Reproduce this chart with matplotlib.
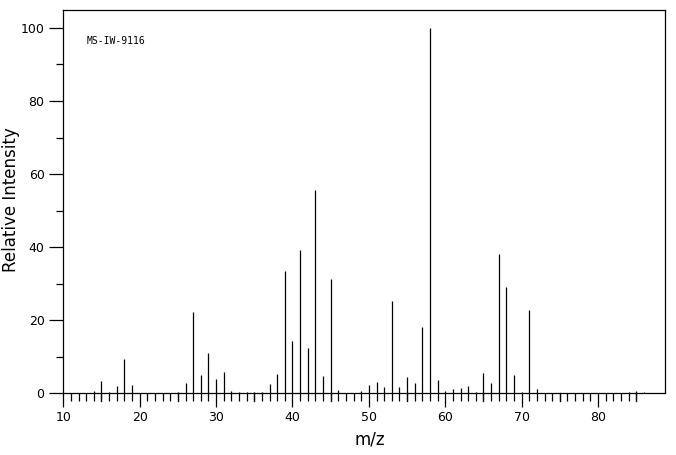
import matplotlib
matplotlib.use("Agg")
import matplotlib.pyplot as plt
from matplotlib.ticker import FixedLocator, MultipleLocator

mz = [14, 15, 16, 17, 18, 19, 25, 26, 27, 28, 29, 30, 31, 32, 33, 34, 35, 36,
      37, 38, 39, 40, 41, 42, 43, 44, 45, 46, 49, 50, 51, 52, 53, 54, 55, 56,
      57, 58, 59, 60, 61, 62, 63, 64, 65, 66, 67, 68, 69, 70, 71, 72, 84, 85, 86]
intensity = [0.5, 3.3, 0.3, 2.0, 9.3, 2.2, 0.3, 2.7, 22.3, 5.0, 11.0, 3.8, 5.8,
             0.5, 0.4, 0.4, 0.4, 0.3, 2.6, 5.3, 33.5, 14.3, 39.3, 12.4, 55.7,
             4.8, 31.3, 0.8, 0.5, 2.3, 3.0, 1.6, 25.3, 1.6, 4.4, 2.8, 18.2,
             100.0, 3.6, 0.6, 1.1, 1.4, 1.9, 0.3, 5.6, 2.7, 38.1, 29.1, 5.0,
             0.3, 22.8, 1.2, 0.4, 0.6, 0.35]

x_ticks = [10, 20, 30, 40, 50, 60, 70, 80]
y_ticks = [0, 20, 40, 60, 80, 100]
label_text = "MS-IW-9116"

fig = plt.figure(figsize=(6.76, 4.55), dpi=100)
ax = fig.add_axes([63.3 / 676, 1 - 393.3 / 455, (664.5 - 63.3) / 676, (393.3 - 10) / 455])

ax.vlines(mz, 0, intensity, colors="black", linewidth=0.9)

ax.set_xlim(10, 88.7)
ax.set_ylim(0, 104.9)

ax.set_xticks(x_ticks)
ax.set_yticks(y_ticks)
ax.xaxis.set_minor_locator(FixedLocator(list(range(10, 86))))
ax.yaxis.set_minor_locator(MultipleLocator(10))
ax.tick_params(axis="both", which="major", direction="out", length=10, width=0.9,
               labelsize=9, colors="black")
ax.tick_params(axis="x", which="minor", direction="out", length=6, width=0.9)
ax.tick_params(axis="y", which="minor", direction="out", length=5, width=0.9)
ax.tick_params(axis="x", which="major", pad=3)

# mid (5s) ticks, slightly longer
mid = [15, 25, 35, 45, 55, 65, 75, 85]
trans = ax.get_xaxis_transform()
for v in mid:
    ax.plot([v, v], [0, -8 / (393.3 - 10)], color="black", linewidth=0.9,
            transform=trans, clip_on=False)

for s in ax.spines.values():
    s.set_linewidth(0.9)

fig.text(370 / 676, 1 - 440 / 455, "m/z", fontsize=12, ha="center", va="center")
fig.text(11 / 676, 1 - 200 / 455, "Relative Intensity", fontsize=12,
         rotation=90, ha="center", va="center")

ax.text(13.1, 96.4, label_text, fontsize=7, family="DejaVu Sans Mono",
        va="center", ha="left")

fig.savefig("out.png", dpi=100)
